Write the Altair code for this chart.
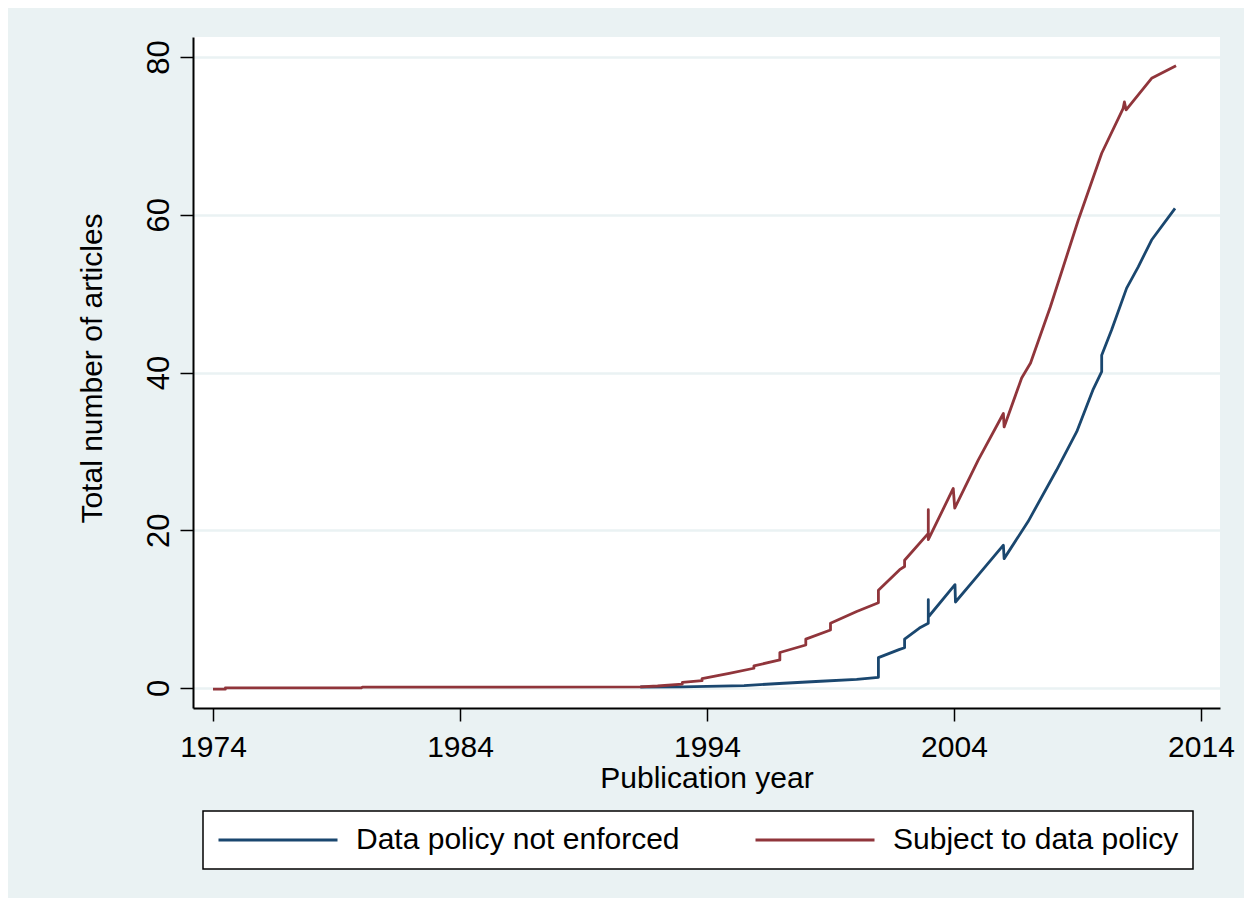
import altair as alt
import pandas as pd

# Data
blue_year = [1991.3, 1993.0, 1995.5, 1997.1, 1998.6, 2000.06, 2000.94, 2000.94, 2001.8, 2002.0,
             2002.0, 2002.6, 2002.96, 2002.96, 2002.96, 2004.04, 2004.06, 2004.98, 2006.0, 2006.03,
             2007.0, 2008.15, 2008.97, 2009.64, 2009.98, 2009.98, 2010.38, 2010.99, 2011.46, 2012.0,
             2012.95]
blue_val = [0.12, 0.15, 0.3, 0.6, 0.85, 1.1, 1.35, 3.85, 4.9, 5.1,
            6.2, 7.6, 8.2, 11.2, 9.0, 13.1, 10.9, 14.3, 18.1, 16.4,
            21.1, 27.6, 32.5, 37.9, 40.1, 42.2, 45.4, 50.7, 53.4, 56.8,
            60.8]

red_year = [1974.0, 1974.5, 1974.5, 1980.0, 1980.05, 1991.3, 1992.0, 1993.0, 1993.0, 1993.8,
            1993.8, 1994.9, 1995.9, 1995.9, 1996.95, 1996.95, 1998.0, 1998.0, 1999.0, 1999.0,
            2000.06, 2000.94, 2000.94, 2001.8, 2002.0, 2002.0, 2002.96, 2002.96, 2002.96, 2003.97,
            2004.03, 2004.98, 2006.0, 2006.03, 2006.74, 2007.1, 2007.9, 2009.03, 2009.98, 2010.85,
            2010.9, 2010.97, 2012.0, 2012.99]
red_val = [-0.15, -0.15, 0.0, 0.0, 0.1, 0.13, 0.25, 0.5, 0.7, 0.93,
           1.2, 1.86, 2.5, 2.8, 3.55, 4.5, 5.45, 6.2, 7.35, 8.2,
           9.7, 10.8, 12.4, 15.0, 15.4, 16.2, 19.6, 22.6, 18.8, 25.3,
           22.8, 28.9, 34.8, 33.1, 39.3, 41.2, 48.3, 59.3, 67.8, 73.5,
           74.3, 73.3, 77.3, 78.9]

series_names = ["Data policy not enforced", "Subject to data policy"]
series_colors = ["#1A476F", "#90353B"]
x_ticks = [1974, 1984, 1994, 2004, 2014]
y_ticks = [0, 20, 40, 60, 80]

rows = []
i = 0
for yr, v in zip(blue_year, blue_val):
    rows.append({"year": yr, "value": v, "series": series_names[0], "idx": i}); i += 1
for yr, v in zip(red_year, red_val):
    rows.append({"year": yr, "value": v, "series": series_names[1], "idx": i}); i += 1
df = pd.DataFrame(rows)

FONT = "Liberation Sans"

chart = alt.Chart(df).mark_line(strokeWidth=2.8, strokeJoin="round").encode(
    x=alt.X("year:Q",
            scale=alt.Scale(domain=[1973.19, 2014.77], nice=False, zero=False),
            axis=alt.Axis(values=x_ticks, format="d", title="Publication year", grid=False,
                          labelFontSize=30, labelBaseline="alphabetic", labelPadding=35,
                          titleFontSize=30, titleFontWeight="normal", titleBaseline="alphabetic",
                          titleY=79)),
    y=alt.Y("value:Q",
            scale=alt.Scale(domain=[-2.54, 82.54], nice=False, zero=False),
            axis=alt.Axis(values=y_ticks, format="d", title="Total number of articles", grid=True,
                          gridColor="#EAF2F3", gridWidth=2.5,
                          labelFontSize=31, labelAngle=270, labelAlign="center",
                          labelBaseline="alphabetic", labelPadding=12,
                          titleFontSize=30, titleFontWeight="normal", titleAngle=270,
                          titleBaseline="alphabetic", titleX=-92, titleY=331)),
    color=alt.Color("series:N",
                    scale=alt.Scale(domain=series_names, range=series_colors),
                    legend=alt.Legend(title=None, orient="none", legendX=10, legendY=774,
                                      direction="horizontal", fillColor="white",
                                      strokeColor="black", padding=14,
                                      symbolType="stroke", symbolSize=14161,
                                      symbolStrokeWidth=3, clipHeight=30,
                                      labelFontSize=30, labelFont=FONT, labelColor="black",
                                      labelLimit=0, labelOffset=17, columnPadding=74)),
    order="idx:Q",
).properties(
    width=1027, height=671,
    autosize=alt.AutoSizeParams(type="none"),
    padding={"left": 185, "top": 29, "right": 24, "bottom": 190},
    background="#EAF2F3",
).configure_view(
    fill="white", stroke=None
).configure_axis(
    domainColor="black", domainWidth=2, tickColor="black", tickWidth=1.5, tickSize=13,
    labelColor="black", titleColor="black", labelFont=FONT, titleFont=FONT,
).configure_legend(
    strokeWidth=1.5
)

chart.save("out.html", embed_options={"renderer": "svg", "actions": False})
